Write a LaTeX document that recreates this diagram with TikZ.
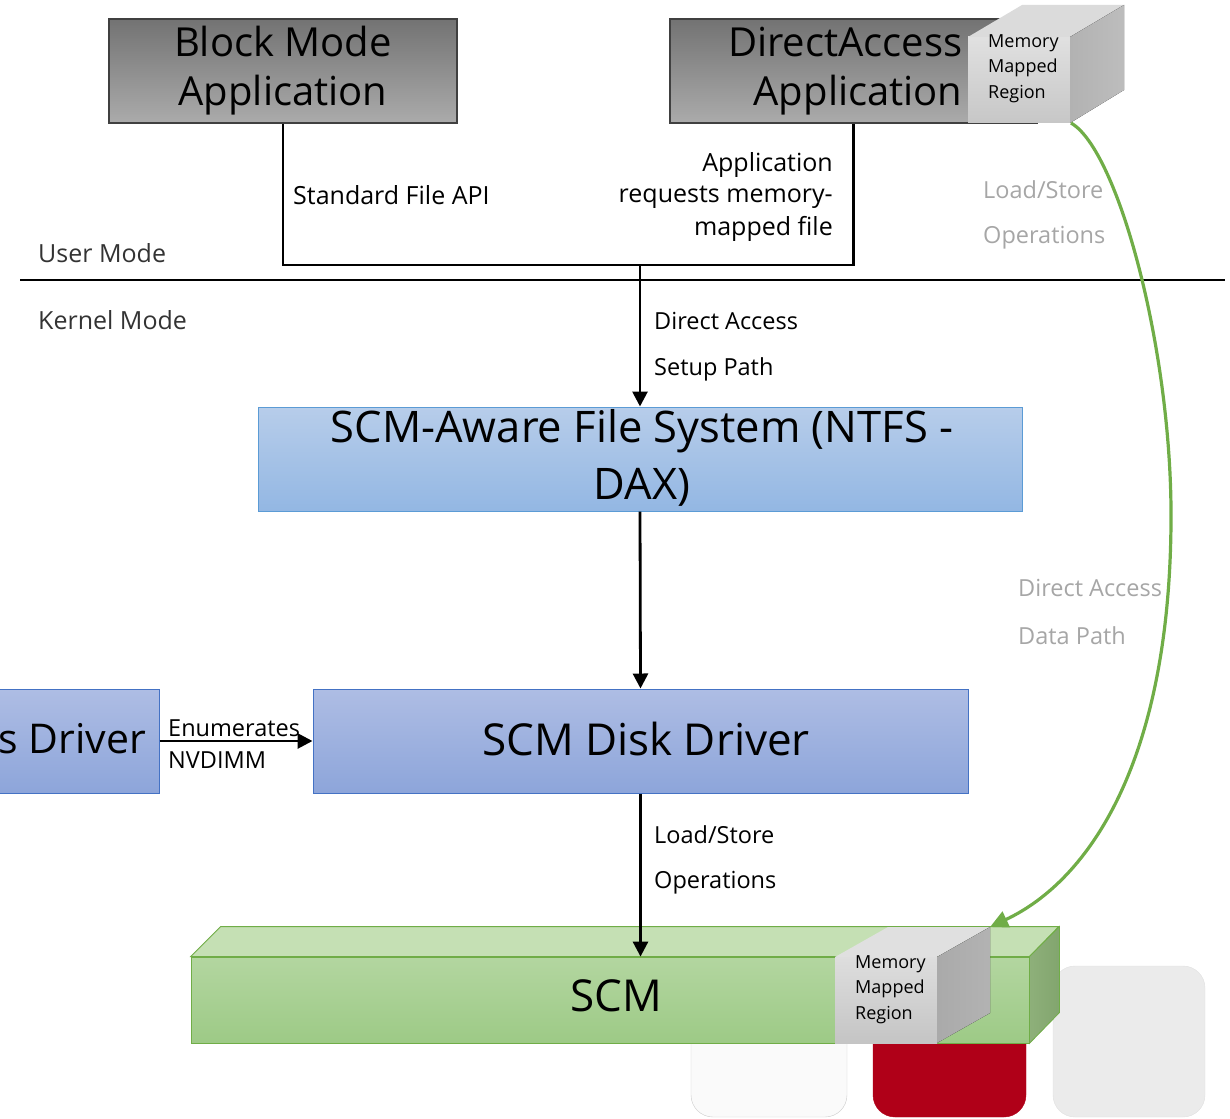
\documentclass[tikz,border=0pt]{standalone}
\usepackage{fontspec}
\setmainfont{Open Sans}
\usetikzlibrary{arrows.meta}
\definecolor{appedge}{HTML}{404040}
\definecolor{fsedge}{HTML}{5B9BD5}
\definecolor{fstop}{HTML}{B7CDEA}
\definecolor{fsbot}{HTML}{93B7E3}
\definecolor{drvedge}{HTML}{4472C4}
\definecolor{drvtop}{HTML}{AEBDE4}
\definecolor{drvbot}{HTML}{8DA5DA}
\definecolor{scmedge}{HTML}{70AD47}
\definecolor{scmtop}{HTML}{B3D6A0}
\definecolor{scmbot}{HTML}{9DCA86}
\definecolor{scmlid}{HTML}{C5E0B4}
\definecolor{scmsidel}{HTML}{8EB07A}
\definecolor{scmsider}{HTML}{82A56E}
\definecolor{graytext}{HTML}{A6A6A6}
\definecolor{chipred}{HTML}{B00018}
\begin{document}
\begin{tikzpicture}[x=1pt,y=-1pt,
  appbox/.style={draw=appedge, line width=1.5pt, top color=black!55, bottom color=black!33,
    minimum width=#1, minimum height=104, inner sep=0pt},
  fsbox/.style={draw=fsedge, line width=1pt, top color=fstop, bottom color=fsbot,
    minimum width=#1, minimum height=104, inner sep=0pt},
  drvbox/.style={draw=drvedge, line width=1pt, top color=drvtop, bottom color=drvbot,
    minimum width=#1, minimum height=104, inner sep=0pt},
  bigtext/.style={font=\fontsize{40}{49}\selectfont, align=center},
  lbl/.style={font=\fontsize{23.5}{26}\selectfont, anchor=west, inner sep=0pt},
  biglbl/.style={lbl, font=\fontsize{25}{28}\selectfont},
  glbl/.style={lbl, text=graytext},
  mmr/.style={font=\fontsize{18}{25.5}\selectfont, align=left, inner sep=0pt, anchor=north west},
  conn/.style={line width=2.8pt},
  arr/.style={line width=2.8pt, -{Triangle[length=15pt,width=15pt]}},
  chip/.style={rounded corners=22pt},
]
\useasboundingbox (0,0) rectangle (1230,1118);

% memory chips below the SCM bar
\draw[chip, draw=black!20, fill=black!2] (691,990) rectangle (847,1117);
\draw[chip, fill=chipred, draw=chipred] (873,990) rectangle (1026,1117);
\draw[chip, draw=black!12, fill=black!8] (1053,966) rectangle (1205,1117);

% applications
\node[appbox=348] (bm) at (283,71) {};
\node[bigtext] (bmtext) at (bm.center) {Block Mode\\Application};
\node[appbox=367] (da) at (853.5,71) {};
\node[bigtext, align=right, anchor=east] (datext) at (966,71) {DirectAccess\\Application};

% memory mapped region (application side)
\coordinate (tf) at (968,37);
\fill[top color=black!12, bottom color=black!22] (tf) rectangle ++(102,86);
\fill[black!14] (tf) -- ++(54,-32) -- ++(102,0) -- ++(-54,32) -- cycle;
\fill[left color=black!38, right color=black!26] (tf) ++(102,0) -- ++(54,-32) -- ++(0,85) -- ++(-54,33) -- cycle;
\coordinate (tfse) at (1071,123);
\node[mmr] (mmrtop) at (988,34) {Memory\\Mapped\\Region};

% user / kernel boundary
\coordinate (ub1) at (20,280);
\coordinate (ub2) at (1225,280);
\draw[line width=2.2pt] (ub1) -- (ub2);
\node[biglbl, text=black!80] (um) at (38,253) {User Mode};
\node[biglbl, text=black!80] (km) at (38,320) {Kernel Mode};

% setup path from the applications
\coordinate (j) at (640,265);
\draw[conn] (bm.south) |- (j) -| (da.south);
\node[biglbl] (sfa) at (293,195) {Standard File API};
\node[biglbl, anchor=east] (ar1) at (833,165) {Application};
\node[biglbl, anchor=east] (ar2) at (833,197) {requests memory-};
\node[biglbl, anchor=east] (ar3) at (833,229) {mapped file};

% file system
\node[fsbox=764] (fs) at (640,459) {};
\node[bigtext, font=\fontsize{43.5}{57}\selectfont] (fstext) at (642,458) {SCM-Aware File System (NTFS -\\DAX)};
\draw[arr] (j) -- (fs.north);
\node[lbl] (das1) at (654,321) {Direct Access};
\node[lbl] (das2) at (654,369) {Setup Path};

% drivers
\node[drvbox=655] (sd) at (640.5,741) {};
\node[bigtext, font=\fontsize{44}{50}\selectfont] (sdtext) at (646,739) {SCM Disk Driver};
\draw[arr] (fs.south) -- (sd.north);
\node[drvbox=190] (ld) at (64,741) {};
\node[bigtext, font=\fontsize{41}{50}\selectfont, anchor=east, inner sep=0pt] (ldtext) at (146,739) {s Driver};
\draw[arr] (ld.east) -- (sd.west);
\node[lbl] (en1) at (168,728) {Enumerates};
\node[lbl] (en2) at (168,760) {NVDIMM};

% SCM bar
\node[draw=scmedge, line width=0.8pt, top color=scmtop, bottom color=scmbot,
  minimum width=838, minimum height=86, inner sep=0pt] (scm) at (610,1000) {};
\draw[scmedge, line width=0.8pt, fill=scmlid] (scm.north west) -- ++(30,-30) -- ++(838,0) -- (scm.north east) -- cycle;
\draw[scmedge, line width=0.8pt, left color=scmsidel, right color=scmsider] (scm.north east) -- ++(30,-30) -- ++(0,86) -- (scm.south east) -- cycle;
\node[bigtext, font=\fontsize{44}{50}\selectfont] (scmtext) at (616,996) {SCM};
\draw[arr] (sd.south) -- (scm.north -| sd.south);
\node[lbl] (ls1) at (654,835) {Load/Store};
\node[lbl] (ls2) at (654,883) {Operations};

% memory mapped region (SCM side)
\coordinate (bf) at (835,957);
\fill[top color=black!13, bottom color=black!23] (bf) rectangle ++(102,86);
\fill[black!12] (bf) -- ++(53,-30) -- ++(102,0) -- ++(-53,30) -- cycle;
\fill[left color=black!40, right color=black!30] (bf) ++(102,0) -- ++(53,-30) -- ++(0,86) -- ++(-53,30) -- cycle;
\coordinate (bfback) at (990,927);
\node[mmr] (mmrbot) at (855,955) {Memory\\Mapped\\Region};

% direct access data path
\draw[scmedge, line width=3.2pt, -{Triangle[length=18pt,width=17pt]}]
  (tfse) .. controls (1118,150) and (1172,350) .. (1171,520)
         .. controls (1170,760) and (1090,880) .. (bfback);
\node[glbl] (gl1) at (983,190) {Load/Store};
\node[glbl] (gl2) at (983,238) {Operations};
\node[glbl] (gd1) at (1018,588) {Direct Access};
\node[glbl] (gd2) at (1018,636) {Data Path};
\end{tikzpicture}
\end{document}
